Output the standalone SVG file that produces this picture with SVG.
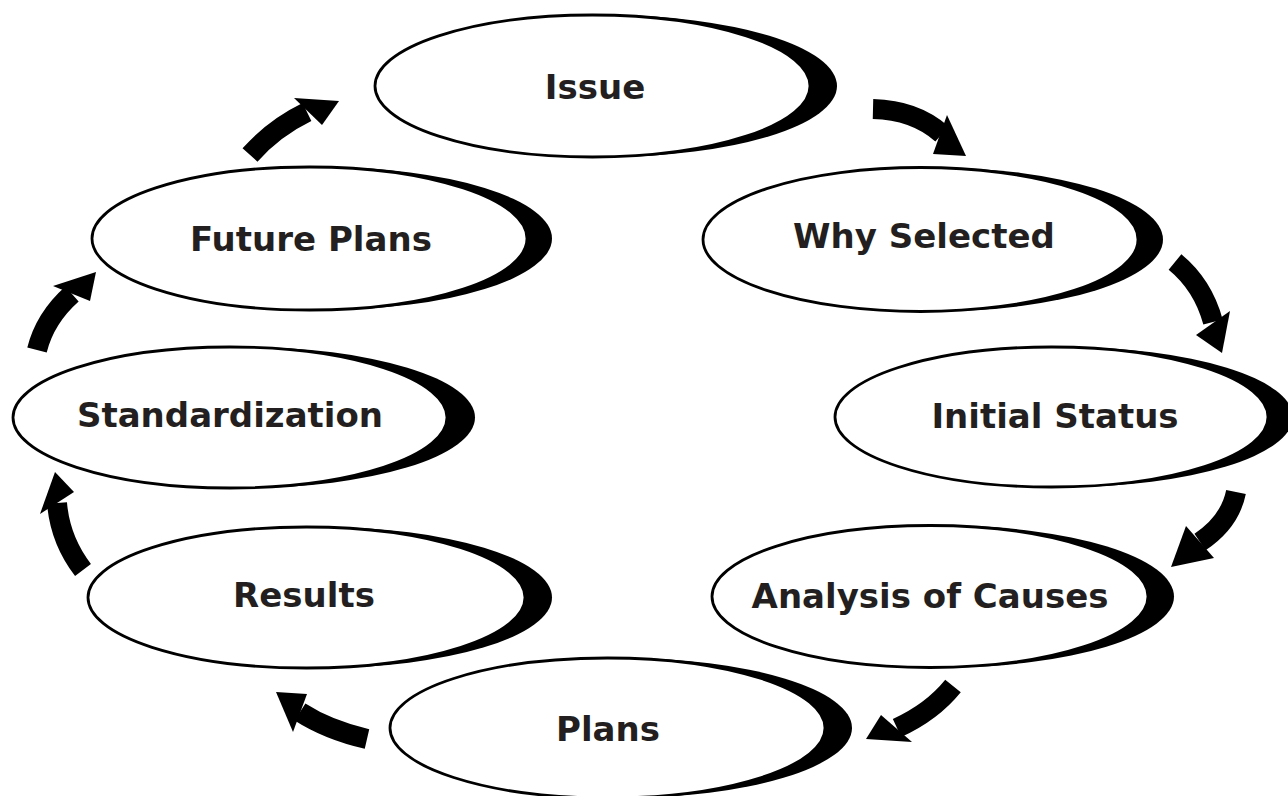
<svg xmlns="http://www.w3.org/2000/svg" width="1288" height="796" viewBox="0 0 1288 796">
<style>
.shadow{fill:#000}
.face{fill:#fff;stroke:#000;stroke-width:2.8}
.lbl{font-family:"DejaVu Sans","Verdana",sans-serif;font-weight:bold;font-size:34px;fill:#231f20;text-anchor:middle}
.body{fill:none;stroke:#000;stroke-width:20}
.head{fill:#000}
</style>
<rect width="1288" height="796" fill="#fff"/>
<g id="connectors">
  <path class="body" d="M873,109 Q915,110 942,134"/>
  <polygon class="head" points="947,115 933,154 966,156"/>
  <path class="body" d="M1175,262 Q1203,285 1213,322"/>
  <polygon class="head" points="1196,335 1230,311 1222,353"/>
  <path class="body" d="M1236,492 Q1230,522 1200,542"/>
  <polygon class="head" points="1186,526 1214,558 1171,567"/>
  <path class="body" d="M953,686 Q932,712 897,728"/>
  <polygon class="head" points="881,715 912,742 866,739"/>
  <path class="body" d="M367,739 Q328,730 300,712"/>
  <polygon class="head" points="307,694 293,732 276,692"/>
  <path class="body" d="M83,570 Q60,540 57,503"/>
  <polygon class="head" points="40,514 74,492 55,472"/>
  <path class="body" d="M37,350 Q45,318 72,294"/>
  <polygon class="head" points="53,286 90,301 96,272"/>
  <path class="body" d="M250,155 Q274,128 307,112"/>
  <polygon class="head" points="294,98 322,125 339,101"/>
</g>
<g id="issue">
  <ellipse class="shadow" cx="606" cy="86" rx="231" ry="71"/>
  <ellipse class="face" cx="592.5" cy="86" rx="217.5" ry="71"/>
  <text class="lbl" x="595" y="99">Issue</text>
</g>
<g id="why-selected">
  <ellipse class="shadow" cx="933" cy="239.5" rx="230" ry="72"/>
  <ellipse class="face" cx="920.5" cy="239.5" rx="217.5" ry="72"/>
  <text class="lbl" x="924" y="248">Why Selected</text>
</g>
<g id="initial-status">
  <ellipse class="shadow" cx="1064" cy="417" rx="229" ry="70"/>
  <ellipse class="face" cx="1051.5" cy="417" rx="216.5" ry="70"/>
  <text class="lbl" x="1055" y="428">Initial Status</text>
</g>
<g id="analysis-of-causes">
  <ellipse class="shadow" cx="943" cy="596.5" rx="231" ry="71"/>
  <ellipse class="face" cx="930" cy="596.5" rx="218" ry="71"/>
  <text class="lbl" x="930" y="608">Analysis of Causes</text>
</g>
<g id="plans">
  <ellipse class="shadow" cx="621" cy="728" rx="231" ry="70"/>
  <ellipse class="face" cx="607.5" cy="728" rx="217.5" ry="70"/>
  <text class="lbl" x="608" y="741">Plans</text>
</g>
<g id="results">
  <ellipse class="shadow" cx="320" cy="597.5" rx="232" ry="70.5"/>
  <ellipse class="face" cx="306.5" cy="597.5" rx="218.5" ry="70.5"/>
  <text class="lbl" x="304" y="607">Results</text>
</g>
<g id="standardization">
  <ellipse class="shadow" cx="244" cy="417.5" rx="231" ry="70.5"/>
  <ellipse class="face" cx="230" cy="417.5" rx="217" ry="70.5"/>
  <text class="lbl" x="230" y="427">Standardization</text>
</g>
<g id="future-plans">
  <ellipse class="shadow" cx="322" cy="238.5" rx="230" ry="71.5"/>
  <ellipse class="face" cx="309.5" cy="238.5" rx="217.5" ry="71.5"/>
  <text class="lbl" x="311" y="251">Future Plans</text>
</g>
</svg>
